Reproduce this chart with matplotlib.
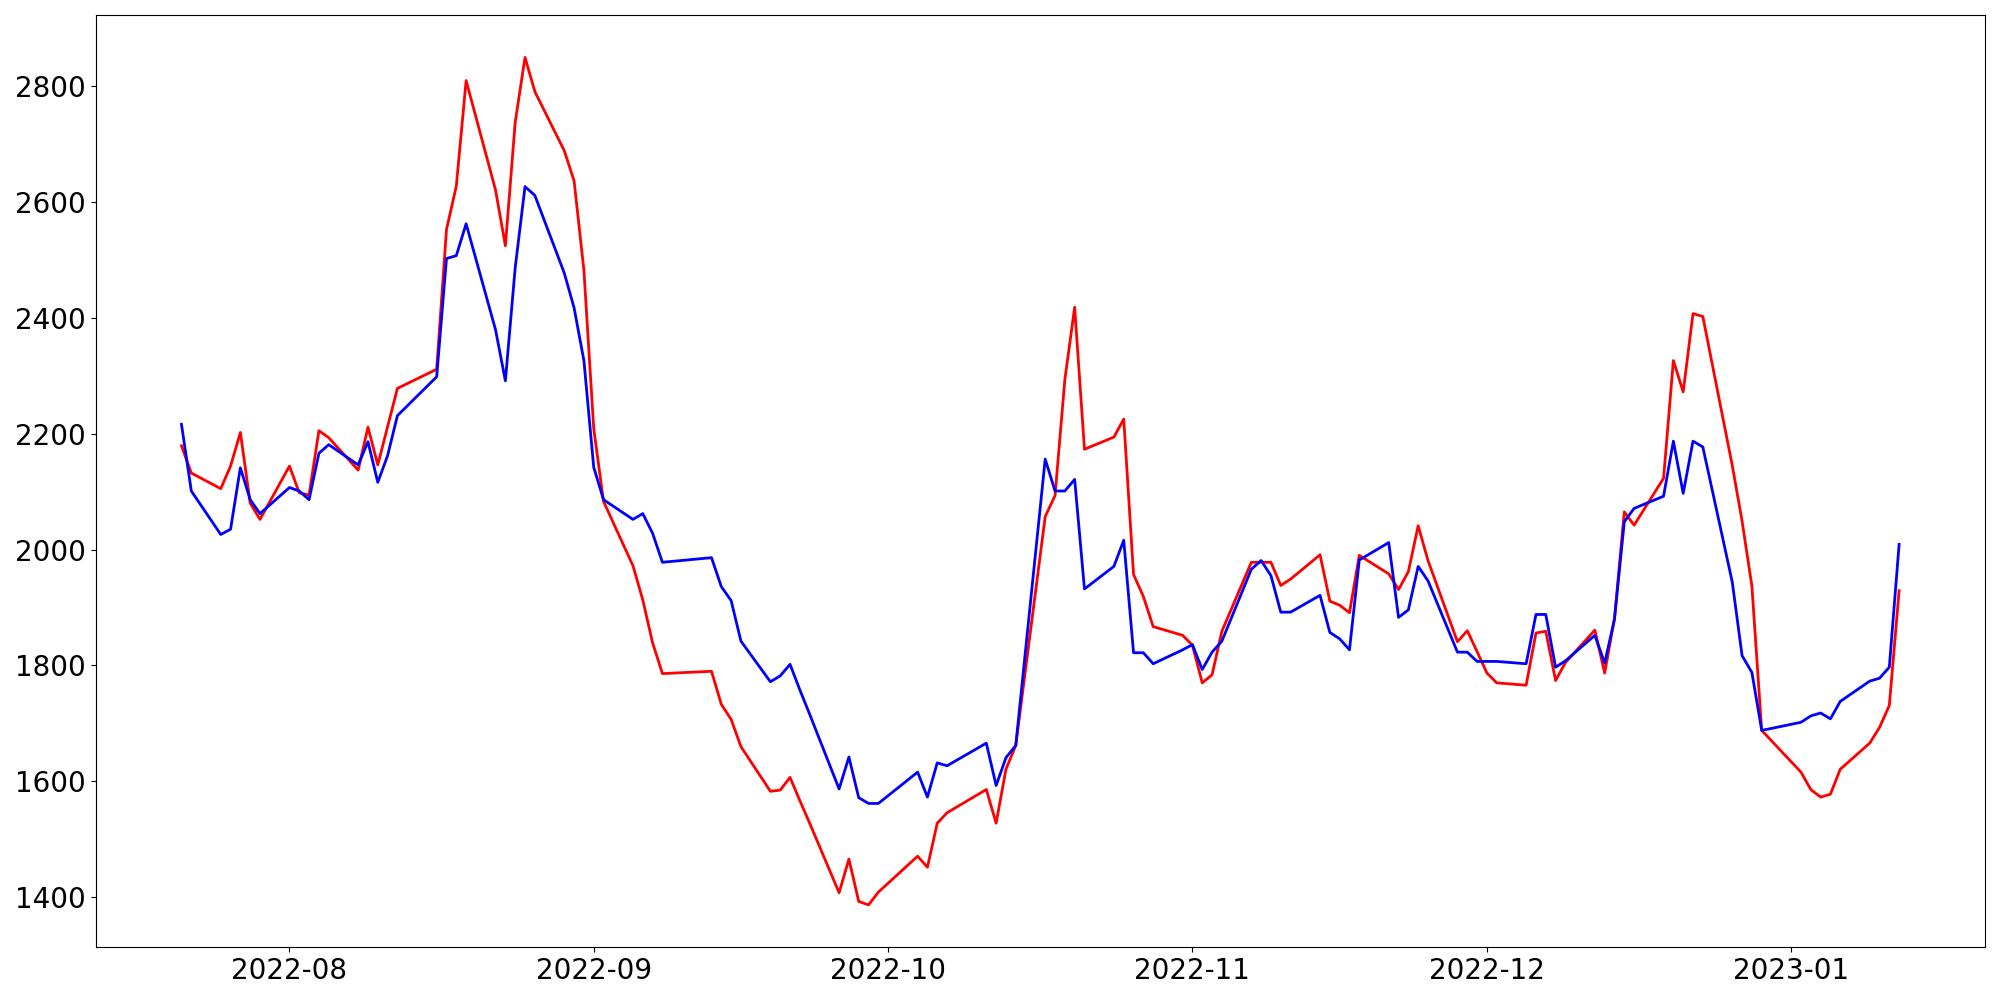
import pandas as pd
import matplotlib
matplotlib.use('Agg')
import matplotlib.pyplot as plt

# 거래일 (주말, 휴장일 제외)
holidays = ['2022-08-15', '2022-09-09', '2022-09-12', '2022-10-03',
            '2022-10-10', '2022-12-30']
dates = pd.bdate_range('2022-07-21', '2023-01-12', freq='C', holidays=holidays)

# 빨간 선
red_values = [
    2179, 2132, 2105, 2144, 2202, 2080, 2052,
    2144, 2098, 2094, 2205, 2193, 2137, 2211, 2146, 2212, 2278,
    2311, 2552, 2627, 2809, 2620, 2524, 2737, 2849, 2790, 2688, 2636, 2482,
    2209, 2083, 1972, 1913, 1839, 1786, 1790, 1733, 1707, 1660,
    1583, 1585, 1607, 1567, 1528, 1408, 1466, 1393, 1387, 1409,
    1471, 1452, 1528, 1546, 1586, 1528, 1621, 1662, 2057, 2093,
    2293, 2418, 2173, 2194, 2225, 1957, 1919, 1867, 1852,
    1835, 1770, 1784, 1859, 1978, 1978, 1978, 1938, 1949, 1991,
    1911, 1904, 1891, 1990, 1958, 1931, 1962, 2041, 1981, 1841, 1860, 1824,
    1787, 1770, 1766, 1856, 1859, 1774, 1805, 1861, 1787, 1881, 2065, 2042,
    2123, 2326, 2272, 2407, 2402, 2145, 2049, 1937, 1688,
    1616, 1586, 1573, 1578, 1621, 1666, 1693, 1731, 1929,
]

# 파란 선
blue_values = [
    2216, 2101, 2026, 2035, 2141, 2086, 2062,
    2107, 2101, 2086, 2166, 2181, 2146, 2186, 2116, 2162, 2231,
    2298, 2502, 2507, 2562, 2379, 2291, 2486, 2626, 2611, 2477, 2417, 2326,
    2142, 2086, 2052, 2062, 2028, 1978, 1986, 1936, 1912, 1842,
    1772, 1782, 1802, 1758, 1716, 1587, 1642, 1572, 1562, 1562,
    1616, 1573, 1632, 1627, 1666, 1593, 1641, 1662, 2156, 2101,
    2101, 2121, 1932, 1971, 2016, 1822, 1822, 1803, 1827,
    1836, 1793, 1823, 1842, 1966, 1981, 1955, 1892, 1892, 1921,
    1857, 1846, 1827, 1982, 2012, 1883, 1896, 1971, 1946, 1823, 1823, 1807,
    1807, 1807, 1803, 1888, 1888, 1797, 1808, 1852, 1804, 1880, 2048, 2071,
    2092, 2187, 2097, 2187, 2177, 1944, 1817, 1788, 1688,
    1702, 1713, 1718, 1708, 1738, 1773, 1778, 1797, 2009,
]

fig, ax = plt.subplots(figsize=(20, 10), dpi=100)

ax.plot(dates, red_values, color='red', linewidth=2)
ax.plot(dates, blue_values, color='blue', linewidth=2)

ax.tick_params(axis='both', which='major', labelsize=20)

plt.tight_layout()
plt.savefig('out.png')
